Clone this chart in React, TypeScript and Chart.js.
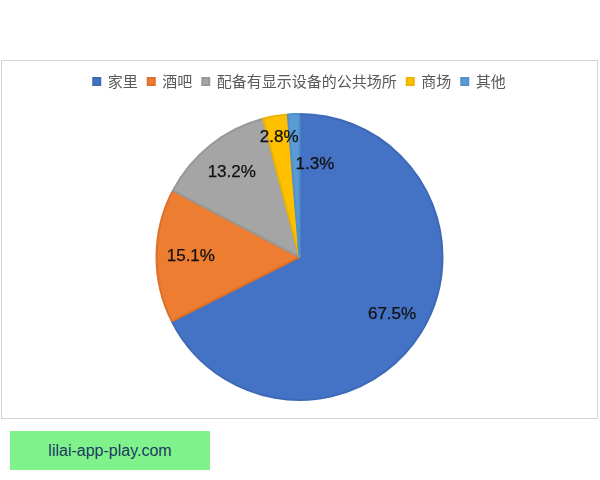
import { useEffect, useRef } from 'react';
import Chart from 'chart.js/auto';

const categories = ['家里', '酒吧', '配备有显示设备的公共场所', '商场', '其他'];
const shares = [67.5, 15.1, 13.2, 2.8, 1.3];
const sliceColors = ['#4472c4', '#ed7d31', '#a5a5a5', '#ffc000', '#5b9bd5'];
const edgeColors = ['#3e69b6', '#dc7029', '#989898', '#eeb200', '#5290c8'];

// draws the percent labels inside the slices
const sliceLabels = {
  id: 'sliceLabels',
  afterDatasetsDraw(chart: Chart) {
    const ctx = chart.ctx;
    const meta = chart.getDatasetMeta(0);
    ctx.save();
    ctx.font = '17px "Liberation Sans", Arial, sans-serif';
    ctx.fillStyle = '#111111';
    ctx.strokeStyle = '#111111';
    ctx.lineWidth = 0.25;
    ctx.textBaseline = 'middle';
    let smallCount = 0;
    const put = (text: string, tx: number, ty: number) => {
      ctx.fillText(text, tx, ty);
      ctx.strokeText(text, tx, ty);
    };
    meta.data.forEach((el: any, i: number) => {
      const { x, y, startAngle, endAngle, outerRadius } = el.getProps(
        ['x', 'y', 'startAngle', 'endAngle', 'outerRadius'], true
      );
      const text = shares[i].toFixed(1) + '%';
      if (shares[i] >= 5) {
        const mid = (startAngle + endAngle) / 2;
        const r = outerRadius * 0.76;
        ctx.textAlign = 'center';
        put(text, x + Math.cos(mid) * r, y + Math.sin(mid) * r);
      } else {
        // small slices near 12 o'clock: put text beside the thin wedge
        if (smallCount === 0) {
          ctx.textAlign = 'right';
          put(text, x - 1, y - outerRadius * 0.84);
        } else {
          ctx.textAlign = 'left';
          put(text, x - 4, y - outerRadius * 0.65);
        }
        smallCount++;
      }
    });
    ctx.restore();
  },
};

export default function App() {
  const canvasRef = useRef<HTMLCanvasElement>(null);
  const chartRef = useRef<Chart | null>(null);

  useEffect(() => {
    document.body.style.margin = '0';
    if (!canvasRef.current) return;
    const ctx = canvasRef.current.getContext('2d');
    if (!ctx) return;

    chartRef.current = new Chart(ctx, {
      type: 'pie',
      data: {
        labels: categories,
        datasets: [{
          data: shares,
          backgroundColor: sliceColors,
          borderColor: edgeColors,
          borderWidth: 2,
        }]
      },
      options: {
        responsive: true,
        maintainAspectRatio: false,
        animation: false,
        radius: 143,
        layout: {
          padding: { top: 3, bottom: 3 }
        },
        plugins: {
          legend: {
            position: 'top',
            labels: {
              boxWidth: 7,
              boxHeight: 7,
              padding: 10,
              color: '#595959',
              font: {
                family: '"Noto Sans CJK SC", "Noto Sans", sans-serif',
                size: 15
              }
            }
          },
          tooltip: { enabled: false }
        }
      },
      plugins: [sliceLabels]
    });

    return () => {
      chartRef.current?.destroy();
      chartRef.current = null;
    };
  }, []);

  return (
    <div style={{ position: 'relative', width: 600, height: 480, background: '#fff' }}>
      <div style={{
        position: 'absolute', left: 1, top: 60, width: 595, height: 357,
        border: '1px solid #d4d4d4'
      }}>
        <canvas ref={canvasRef}></canvas>
      </div>
      <div style={{
        position: 'absolute', left: 10, top: 431, width: 200, height: 39,
        background: '#80f28c', color: '#1d3a5f',
        font: '16px "Liberation Sans", Arial, sans-serif',
        display: 'flex', alignItems: 'center', justifyContent: 'center'
      }}>
        lilai-app-play.com
      </div>
    </div>
  );
}
